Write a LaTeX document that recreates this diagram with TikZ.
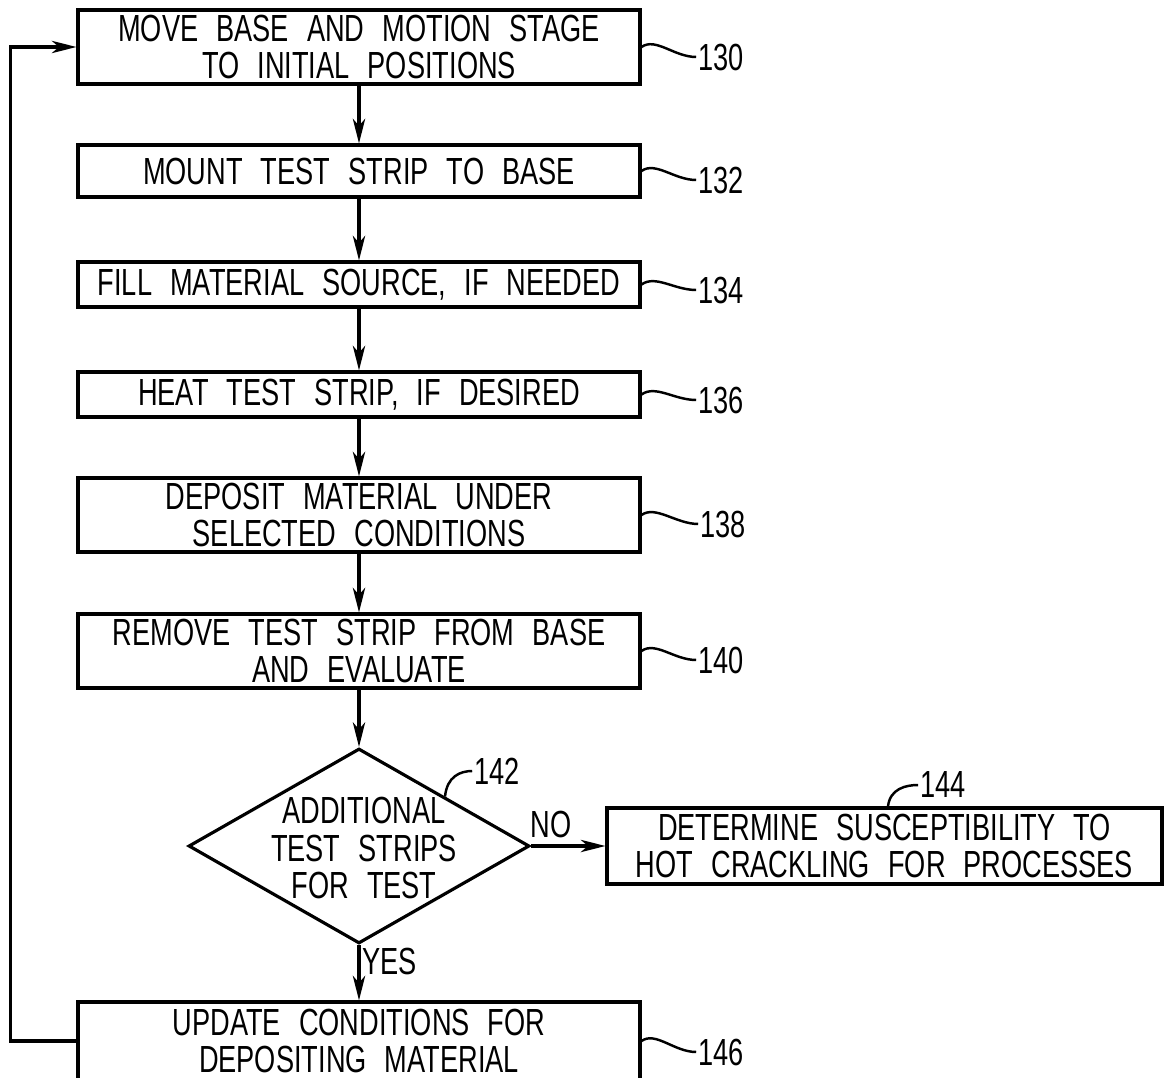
\documentclass[tikz,border=0pt]{standalone}
\usepackage{fontspec}
\setmainfont{Liberation Sans}[FakeStretch=0.72,WordSpace=2.4]
\usepackage{tikz}
\usetikzlibrary{arrows.meta,shapes.geometric}

\begin{document}
\begin{tikzpicture}[x=0.02cm,y=0.02cm,
  stepbox/.style={draw,line width=1.8pt,minimum width=11.24cm,inner sep=0pt,align=center,font=\fontsize{21.5}{21.5}\selectfont},
  decision/.style={draw,diamond,line width=1.8pt,minimum width=6.82cm,minimum height=3.9cm,aspect=1.75,inner sep=0pt},
  txt/.style={align=center,inner sep=1pt,font=\fontsize{21.5}{21.5}\selectfont},
  refnum/.style={inner sep=1pt,font=\fontsize{21.5}{21.5}\selectfont},
  flow/.style={line width=1.8pt,-{Stealth[length=14pt,width=7pt,inset=4pt]}},
  lead/.style={line width=1.4pt}]
\useasboundingbox (0,0) rectangle (1164,-1078);

% process steps
\node[stepbox,minimum height=1.48cm] (b130) at (359,-47) {MOVE BASE AND MOTION STAGE\\TO INITIAL POSITIONS};
\node[stepbox,minimum height=1.04cm] (b132) at (359,-171) {MOUNT TEST STRIP TO BASE};
\node[stepbox,minimum height=0.9cm] (b134) at (359,-284.5) {FILL MATERIAL SOURCE, IF NEEDED};
\node[stepbox,minimum height=0.9cm] (b136) at (359,-394.5) {HEAT TEST STRIP, IF DESIRED};
\node[stepbox,minimum height=1.48cm] (b138) at (359,-515) {DEPOSIT MATERIAL UNDER\\SELECTED CONDITIONS};
\node[stepbox,minimum height=1.48cm] (b140) at (359,-651) {REMOVE TEST STRIP FROM BASE\\AND EVALUATE};
\node[decision] (d142) at (359,-846) {};
\node[txt] (t142) at (364,-848) {ADDITIONAL\\TEST STRIPS\\FOR TEST};
\node[stepbox,minimum width=11.1cm,minimum height=1.52cm] (b144) at (884.5,-846) {DETERMINE SUSCEPTIBILITY TO\\HOT CRACKLING FOR PROCESSES};
\node[stepbox,minimum height=1.56cm] (b146) at (359,-1041) {UPDATE CONDITIONS FOR\\DEPOSITING MATERIAL};

% flow
\draw[flow] (b130.south) -- (b132.north);
\draw[flow] (b132.south) -- (b134.north);
\draw[flow] (b134.south) -- (b136.north);
\draw[flow] (b136.south) -- (b138.north);
\draw[flow] (b138.south) -- (b140.north);
\draw[flow] (b140.south) -- (d142.north);
\draw[flow] (d142.east) -- node[refnum,above,pos=0.27,yshift=3pt] (no) {NO} (b144.west);
\draw[flow] (d142.south) -- node[refnum,right,pos=0.3] (yes) {YES} (b146.north);
\draw[flow] (b146.west) -- ++(-66,0) |- (b130.west);

% reference numerals
\node[refnum] (l130) at (721,-57) {130};
\node[refnum] (l132) at (721,-180) {132};
\node[refnum] (l134) at (721,-290) {134};
\node[refnum] (l136) at (721,-400) {136};
\node[refnum] (l138) at (723,-524) {138};
\node[refnum] (l140) at (721,-660) {140};
\node[refnum] (l142) at (497,-771) {142};
\node[refnum] (l144) at (943,-785) {144};
\node[refnum] (l146) at (721,-1052) {146};
\draw[lead] (b130.east) .. controls +(14,10) and +(-22,0) .. (l130.west);
\draw[lead] (b132.east) .. controls +(14,10) and +(-22,0) .. (l132.west);
\draw[lead] (b134.east) .. controls +(14,10) and +(-22,0) .. (l134.west);
\draw[lead] (b136.east) .. controls +(14,10) and +(-22,0) .. (l136.west);
\draw[lead] (b138.east) .. controls +(14,10) and +(-22,0) .. (l138.west);
\draw[lead] (b140.east) .. controls +(14,10) and +(-22,0) .. (l140.west);
\draw[lead] (b146.east) .. controls +(14,10) and +(-22,0) .. (l146.west);
\draw[lead] (d142.north east) .. controls +(2,20) and +(-12,0) .. (l142.west);
\draw[lead] ([xshift=0.07cm]b144.north) .. controls +(2,18) and +(-12,0) .. (l144.west);
\end{tikzpicture}
\end{document}
